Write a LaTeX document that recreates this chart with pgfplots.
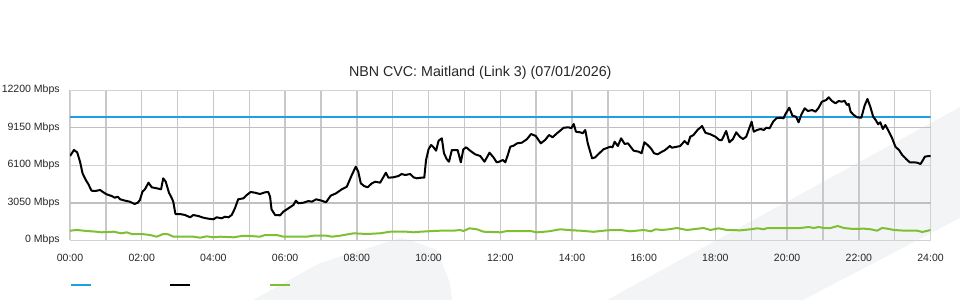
\documentclass[border=0pt]{standalone}
\usepackage{fontspec}
\setmainfont{Liberation Sans}
\usepackage{pgfplots}
\pgfplotsset{compat=1.18}
\definecolor{cvcblue}{RGB}{27,160,224}
\definecolor{cvcgreen}{RGB}{125,192,50}
\definecolor{gridlight}{RGB}{210,210,210}
\definecolor{gridgray}{RGB}{200,200,200}
\definecolor{griddark}{RGB}{192,192,192}
\definecolor{bandgray}{RGB}{243,244,246}
\begin{document}
\begin{tikzpicture}
\useasboundingbox (0,0) rectangle (720pt,225pt);
\fill[bandgray] (455.25pt,0pt) -- (720pt,144.75pt) -- (720pt,61.5pt) -- (602.25pt,0pt) -- cycle;
\fill[bandgray] (189.75pt,0pt) -- (240pt,27.75pt) -- (300pt,46.5pt) -- (307.5pt,45pt) -- (327.75pt,37.5pt) -- (337.5pt,12.75pt) -- (339pt,0pt) -- cycle;
\begin{axis}[
  at={(52.5pt,44.85pt)}, anchor=south west,
  scale only axis, width=645.4pt, height=112.5pt,
  xmin=0, xmax=24, ymin=0, ymax=12200,
  scaled y ticks=false, scaled x ticks=false,
  xtick={0,2,4,6,8,10,12,14,16,18,20,22,24},
  xticklabels={00:00,02:00,04:00,06:00,08:00,10:00,12:00,14:00,16:00,18:00,20:00,22:00,24:00},
  minor xtick={0,1,2,3,4,5,6,7,8,9,10,11,12,13,14,15,16,17,18,19,20,21,22,23,24},
  ytick={0,3050,6100,9150,12200},
  yticklabels={0 Mbps,3050 Mbps,6100 Mbps,9150 Mbps,12200 Mbps},
  xmajorgrids=false, xminorgrids=true, ymajorgrids=true,
  major grid style={gridlight, line width=0.75pt},
  minor grid style={gridgray, line width=1.1pt},
  extra y ticks={3050,9150}, extra y tick labels={},
  extra y tick style={major grid style={griddark, line width=1.2pt}},
  axis line style={gridlight, line width=0.75pt},
  major tick length=0pt, minor tick length=0pt,
  tick style={draw=none},
  /pgf/number format/assume math mode=true,
  ticklabel style={font=\fontsize{7.9}{9.5}\selectfont, text=black!85},
  yticklabel style={anchor=east, inner sep=0pt, xshift=-7.5pt},
  xticklabel style={anchor=north, inner sep=0pt, yshift=-10pt},
  title={NBN CVC: Maitland (Link 3) (07/01/2026)},
  title style={font=\fontsize{10.7}{12.8}\selectfont, text=black!85, at={(0.5,1)}, anchor=south, inner sep=0pt, xshift=-15pt, yshift=2pt},
  legend columns=3,
  legend style={at={(0,-0.299)}, anchor=west, draw=none, fill=none, inner sep=0pt, outer sep=0pt,
    nodes={inner sep=0pt},
    /tikz/every even column/.append style={column sep=57pt}},
  legend image code/.code={\draw[#1] (0pt,0pt) -- (15pt,0pt);},
]
\addplot[cvcblue, line width=1.5pt] coordinates {(0,10000) (24,10000)};
\addlegendentry{\mbox{}}
\addplot[black, line width=1.5pt, line join=round] table {
0 6848
0.11 7336
0.2 7149
0.28 6384
0.35 5441
0.44 4896
0.51 4571
0.6 4026
0.7 4000
0.84 4083
0.93 3896
1.02 3733
1.16 3595
1.25 3457
1.33 3538
1.40 3326
1.54 3213
1.67 3131
1.80 2944
1.89 3050
1.95 3270
2.02 3945
2.09 4140
2.19 4677
2.28 4302
2.42 4221
2.54 4140
2.60 5034
2.67 4758
2.76 3863
2.84 3408
2.88 3131
2.94 2131
3.07 2131
3.21 2049
3.35 1862
3.44 2049
3.58 1968
3.72 1830
3.86 1749
4.0 1700
4.09 1862
4.23 1781
4.32 1911
4.42 1862
4.51 2049
4.60 2594
4.69 3326
4.84 3408
4.93 3676
5.04 3920
5.16 3863
5.30 3757
5.44 3896
5.53 3920
5.58 3538
5.62 2513
5.72 2049
5.86 2025
5.95 2318
6.09 2594
6.23 2863
6.30 3213
6.37 3001
6.51 3050
6.65 3188
6.74 3131
6.87 3326
7.02 3213
7.14 3082
7.27 3619
7.42 3814
7.58 4140
7.72 4351
7.86 5303
7.97 5978
8.04 5571
8.11 4628
8.20 4408
8.30 4302
8.42 4628
8.51 4758
8.65 4677
8.72 5034
8.81 5490
8.88 5083
9.02 5116
9.16 5221
9.25 5384
9.35 5303
9.49 5384
9.58 5116
9.67 5034
9.79 5083
9.88 5083
9.93 6523
10.0 7393
10.07 7743
10.14 7556
10.21 7279
10.28 8092
10.37 8287
10.43 7068
10.51 6580
10.57 6384
10.65 7336
10.81 7336
10.90 6336
10.97 7393
11.05 7556
11.16 7279
11.30 6986
11.44 6848
11.56 6384
11.70 7116
11.81 6742
11.90 6336
11.97 6384
12.07 6523
12.14 6336
12.21 6929
12.28 7604
12.37 7686
12.47 7881
12.60 7930
12.74 8206
12.86 8637
12.99 8475
13.13 7881
13.25 8149
13.36 8556
13.46 8369
13.58 8694
13.67 8906
13.77 9150
13.91 9182
13.98 9101
14.05 9451
14.11 8824
14.23 8775
14.30 8694
14.37 8963
14.44 7881
14.56 6661
14.65 6742
14.74 7011
14.88 7393
15.07 7604
15.13 7556
15.19 8011
15.28 7661
15.37 8287
15.47 7824
15.56 7881
15.72 7279
15.86 7198
15.94 7068
16.02 7962
16.11 7743
16.20 7474
16.29 7068
16.39 6986
16.48 7149
16.60 7336
16.73 7661
16.79 7523
16.93 7604
17.02 7661
17.14 8068
17.23 7800
17.30 8418
17.39 8556
17.50 8963
17.63 9288
17.72 8743
17.86 8613
18.00 8418
18.11 8149
18.18 8149
18.30 8881
18.39 7962
18.49 8230
18.58 8775
18.68 8418
18.77 8230
18.86 8418
19.01 9638
19.07 8824
19.16 8963
19.26 9044
19.35 8963
19.42 9150
19.51 9101
19.61 9638
19.70 9914
19.81 9963
19.90 9914
19.95 10239
20.06 10776
20.15 10125
20.25 10044
20.32 9589
20.40 10239
20.49 10727
20.58 10508
20.70 10589
20.79 10450
20.88 10776
20.97 11264
21.09 11402
21.16 11622
21.25 11321
21.35 11134
21.44 11321
21.53 11264
21.60 11345
21.67 10996
21.72 11077
21.77 10450
21.86 10183
21.95 9996
22.07 9963
22.16 10939
22.24 11484
22.32 10857
22.40 10044
22.47 9776
22.54 9426
22.60 9589
22.67 9044
22.74 9369
22.84 8824
22.93 8287
23.02 7604
23.12 7336
23.21 6929
23.32 6604
23.42 6336
23.54 6336
23.63 6303
23.72 6197
23.79 6523
23.84 6791
23.95 6848
24.0 6848
};
\addlegendentry{\mbox{}}
\addplot[cvcgreen, line width=1.5pt, line join=round] table {
0 773
0.19 830
0.47 748
0.74 691
0.88 642
1.21 691
1.44 561
1.58 642
1.72 504
2.00 504
2.23 423
2.42 285
2.60 504
2.74 480
2.88 285
3.44 285
3.63 203
3.81 317
4.00 236
4.19 285
4.56 236
4.79 342
5.02 342
5.30 285
5.44 423
5.77 423
5.95 285
6.60 285
6.79 366
7.16 366
7.30 285
7.53 366
7.91 561
8.28 504
8.65 561
8.93 691
9.39 691
9.58 642
9.77 691
10.33 773
10.70 773
10.88 830
10.97 748
11.14 967
11.35 887
11.53 691
12.01 642
12.19 748
12.84 748
13.02 642
13.35 720
13.67 887
14.02 805
14.30 760
14.60 683
14.98 805
15.35 830
15.63 724
16.0 830
16.2 724
16.33 887
16.52 830
16.70 887
16.93 992
17.21 830
17.67 992
17.86 830
18.09 967
18.32 830
18.7 803
18.98 887
19.17 967
19.35 887
19.45 992
20.0 992
20.37 992
20.6 1073
20.74 992
20.88 1073
21.02 992
21.21 992
21.41 1155
21.58 992
21.86 911
22.14 940
22.33 887
22.51 773
22.65 992
22.79 940
22.98 830
23.26 776
23.63 776
23.77 667
24.0 830
};
\addlegendentry{\mbox{}}
\end{axis}
\end{tikzpicture}
\end{document}
